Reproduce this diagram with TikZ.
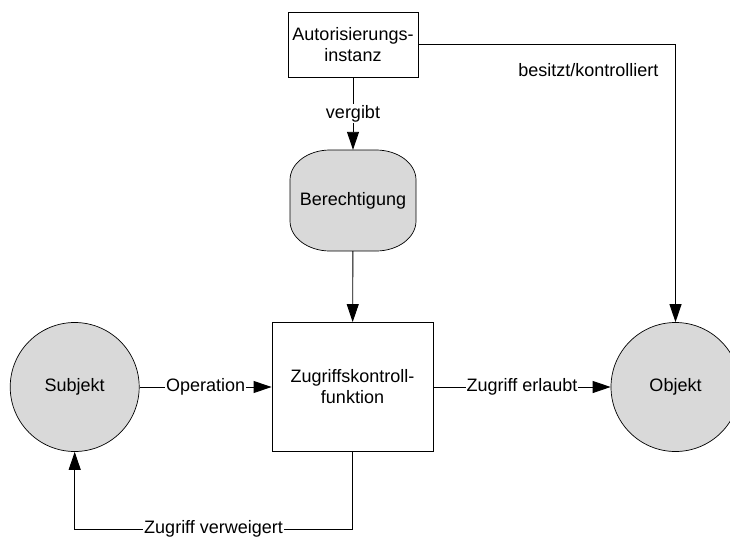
\documentclass[tikz,border=0pt]{standalone}
\usepackage{fontspec}
\setmainfont{Liberation Sans}
\usetikzlibrary{arrows.meta}
\definecolor{shade}{RGB}{217,217,217}
\begin{document}
\begin{tikzpicture}[x=1pt,y=-1pt,
  every node/.style={font=\fontsize{18}{21}\selectfont},
  box/.style={draw, line width=0.9pt, inner sep=0pt, align=center},
  disc/.style={draw, circle, fill=shade, minimum size=129pt, inner sep=0pt, line width=0.7pt},
  conn/.style={line width=0.9pt, -{Triangle[length=18pt,width=12pt]}},
  lbl/.style={fill=white, inner sep=1pt}
]
\useasboundingbox (0,0) rectangle (730,538);
\node[box, minimum width=130pt, minimum height=65pt] (auth) at (353,44.5) {Autorisierungs-\\instanz};
\draw[fill=shade, line width=0.7pt] (290,180) -- (290,221)
  .. controls (290,237.6) and (307.9,251) .. (330,251) -- (376,251)
  .. controls (398.1,251) and (416,237.6) .. (416,221) -- (416,180)
  .. controls (416,163.4) and (398.1,150) .. (376,150) -- (330,150)
  .. controls (307.9,150) and (290,163.4) .. (290,180) -- cycle;
\node[inner sep=0pt, minimum width=126pt, minimum height=101pt] (ber) at (353,200.5) {Berechtigung};
\node[box, minimum width=161pt, minimum height=129pt] (zkf) at (352.5,387) {Zugriffskontroll-\\funktion};
\node[disc] (subj) at (74.7,387) {Subjekt};
\node[disc] (obj) at (675.5,387) {Objekt};
\draw[conn] (auth) -- node[lbl]{vergibt} (ber);
\draw[conn] (ber) -- (zkf);
\draw[conn] (subj) -- node[lbl]{Operation} (zkf);
\draw[conn] (zkf) -- node[lbl]{Zugriff erlaubt} (obj);
\draw[conn] (zkf.south) -- ++(0,77) coordinate (c1) -| node[lbl, pos=0.25]{Zugriff verweigert} (subj.south);
\draw[conn] (auth.east) -| (obj.north);
\node[anchor=base east] (bk) at (662,76) {besitzt/kontrolliert};
\end{tikzpicture}
\end{document}
